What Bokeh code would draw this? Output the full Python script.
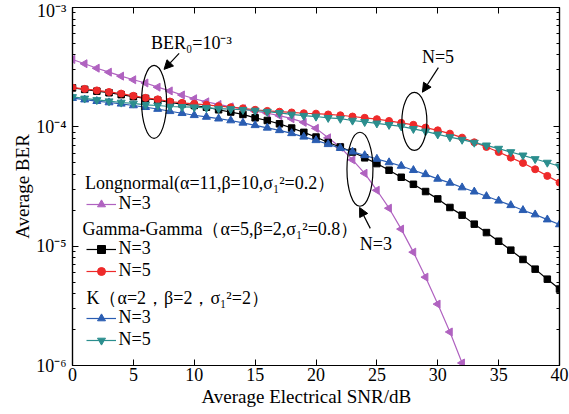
import math
from bokeh.plotting import figure
from bokeh.models import (LogAxis, LinearAxis, FixedTicker, CustomJSTickFormatter,
                          Legend, LegendItem, Label, Arrow, NormalHead, Title)
from bokeh.embed import file_html
from bokeh.resources import INLINE

# ---------------- data ----------------
snr = list(range(0, 41))
snr_ln = list(range(0, 33))

ber_ln_n3 = [3.67e-4, 3.38e-4, 3.10e-4, 2.87e-4, 2.66e-4, 2.48e-4, 2.33e-4, 2.15e-4, 2.00e-4, 1.85e-4,
             1.72e-4, 1.62e-4, 1.54e-4, 1.47e-4, 1.42e-4, 1.35e-4, 1.30e-4, 1.24e-4, 1.17e-4, 1.09e-4,
             9.71e-5, 8.09e-5, 6.74e-5, 5.29e-5, 4.08e-5, 2.94e-5, 2.08e-5, 1.39e-5, 8.91e-6, 5.50e-6,
             3.27e-6, 1.91e-6, 1.05e-6]

ber_gg_n3 = [2.12e-4, 2.06e-4, 1.99e-4, 1.93e-4, 1.86e-4, 1.79e-4, 1.73e-4, 1.67e-4, 1.60e-4, 1.55e-4,
             1.51e-4, 1.46e-4, 1.39e-4, 1.33e-4, 1.27e-4, 1.19e-4, 1.13e-4, 1.06e-4, 9.77e-5, 8.99e-5,
             8.21e-5, 7.39e-5, 6.78e-5, 6.15e-5, 5.50e-5, 4.92e-5, 4.33e-5, 3.78e-5, 3.30e-5, 2.87e-5,
             2.49e-5, 2.11e-5, 1.82e-5, 1.53e-5, 1.30e-5, 1.10e-5, 9.26e-6, 7.74e-6, 6.42e-6, 5.29e-6,
             4.37e-6]

ber_gg_n5 = [2.13e-4, 2.08e-4, 2.02e-4, 1.96e-4, 1.90e-4, 1.82e-4, 1.75e-4, 1.70e-4, 1.63e-4, 1.59e-4,
             1.56e-4, 1.53e-4, 1.49e-4, 1.46e-4, 1.43e-4, 1.39e-4, 1.36e-4, 1.34e-4, 1.32e-4, 1.30e-4,
             1.29e-4, 1.27e-4, 1.25e-4, 1.22e-4, 1.19e-4, 1.16e-4, 1.12e-4, 1.08e-4, 1.04e-4, 9.85e-5,
             9.35e-5, 8.77e-5, 8.12e-5, 7.42e-5, 6.78e-5, 6.15e-5, 5.52e-5, 4.98e-5, 4.41e-5, 3.88e-5,
             3.41e-5]

ber_k_n3 = [1.74e-4, 1.69e-4, 1.64e-4, 1.60e-4, 1.56e-4, 1.51e-4, 1.46e-4, 1.41e-4, 1.35e-4, 1.30e-4,
            1.25e-4, 1.21e-4, 1.17e-4, 1.13e-4, 1.08e-4, 1.03e-4, 9.81e-5, 9.35e-5, 8.82e-5, 8.25e-5,
            7.71e-5, 7.14e-5, 6.63e-5, 6.18e-5, 5.77e-5, 5.38e-5, 5.03e-5, 4.70e-5, 4.33e-5, 4.00e-5,
            3.66e-5, 3.39e-5, 3.10e-5, 2.86e-5, 2.62e-5, 2.40e-5, 2.20e-5, 2.00e-5, 1.84e-5, 1.67e-5,
            1.52e-5]

ber_k_n5 = [1.78e-4, 1.73e-4, 1.68e-4, 1.64e-4, 1.60e-4, 1.57e-4, 1.53e-4, 1.51e-4, 1.48e-4, 1.47e-4,
            1.46e-4, 1.44e-4, 1.42e-4, 1.41e-4, 1.39e-4, 1.37e-4, 1.34e-4, 1.31e-4, 1.27e-4, 1.24e-4,
            1.22e-4, 1.19e-4, 1.17e-4, 1.13e-4, 1.10e-4, 1.07e-4, 1.04e-4, 1.01e-4, 9.62e-5, 9.17e-5,
            8.65e-5, 8.21e-5, 7.81e-5, 7.38e-5, 7.00e-5, 6.57e-5, 6.15e-5, 5.77e-5, 5.38e-5, 5.02e-5,
            4.67e-5]

x_ticks = [0, 5, 10, 15, 20, 25, 30, 35, 40]
y_ticks = [1e-6, 1e-5, 1e-4, 1e-3]
y_minor = [m * 10.0 ** e for e in range(-6, -3) for m in range(2, 10)]

header_ln = "Longnormal(α=11,β=10,σ₁²=0.2）"
header_gg = "Gamma-Gamma（α=5,β=2,σ₁²=0.8）"
header_k = "K（α=2，β=2，σ₁²=2）"

# ---------------- styling ----------------
FONT = "Liberation Serif"
FS = "18px"
C_PURPLE = "#B062C0"
C_BLACK = "#000000"
C_RED = "#EE2A2A"
C_BLUE = "#2A5DB2"
C_TEAL = "#2B8E8E"

p = figure(width=569, height=414, x_range=(0, 40), y_range=(1e-6, 1e-3),
           y_axis_type="log", output_backend="svg", toolbar_location=None,
           min_border_left=72, min_border_right=10, min_border_top=7, min_border_bottom=49)
p.background_fill_color = "white"
p.border_fill_color = "white"
p.outline_line_color = "black"
p.outline_line_width = 1.2
p.xgrid.visible = False
p.ygrid.visible = False

sup = CustomJSTickFormatter(code="""
const s = {'-':'\u207b','0':'\u2070','1':'\u00b9','2':'\u00b2','3':'\u00b3','4':'\u2074','5':'\u2075','6':'\u2076','7':'\u2077','8':'\u2078','9':'\u2079'};
const e = Math.round(Math.log10(tick));
return '10' + String(e).split('').map(c => s[c]).join('');
""")

def style_axis(ax):
    ax.axis_line_color = "black"
    ax.axis_line_width = 1.2
    ax.major_tick_in = 6
    ax.major_tick_out = 0
    ax.minor_tick_in = 3
    ax.minor_tick_out = 0
    ax.major_tick_line_color = "black"
    ax.minor_tick_line_color = "black"
    ax.major_label_text_font = FONT
    ax.major_label_text_font_size = FS
    ax.major_label_text_color = "black"
    ax.axis_label_text_font = FONT
    ax.axis_label_text_font_size = FS
    ax.axis_label_text_font_style = "normal"
    ax.axis_label_text_color = "black"

# bottom x axis
xa = p.xaxis[0]
xa.ticker = FixedTicker(ticks=x_ticks)
style_axis(xa)
xa.minor_tick_line_color = None
xa.major_label_standoff = 2

# x axis title (slightly left of centre, as in the reference)
p.add_layout(Title(text="Average Electrical SNR/dB", align="left", offset=129,
                   text_font=FONT, text_font_size="19px", text_font_style="normal",
                   text_color="black", standoff=0), "below")

# left y axis
ya = p.yaxis[0]
ya.ticker = FixedTicker(ticks=y_ticks, minor_ticks=y_minor)
ya.formatter = sup
style_axis(ya)
ya.major_label_standoff = 6
ya.axis_label = "Average BER"
ya.axis_label_standoff = 0
ya.axis_label_text_font_size = "19px"

# mirrored axes (ticks only)
xt = LinearAxis(ticker=FixedTicker(ticks=x_ticks), major_label_text_alpha=0,
                major_label_standoff=0)
style_axis(xt)
xt.major_label_text_font_size = "1px"
xt.minor_tick_line_color = None
p.add_layout(xt, "above")
yr = LogAxis(ticker=FixedTicker(ticks=y_ticks, minor_ticks=y_minor), major_label_text_alpha=0,
             major_label_standoff=0)
style_axis(yr)
yr.major_label_text_font_size = "1px"
p.add_layout(yr, "right")

# ---------------- series ----------------
LW = 1.2
l_ln3 = p.line(snr_ln, ber_ln_n3, line_color=C_PURPLE, line_width=LW)
s_ln3 = p.scatter(snr_ln, ber_ln_n3, marker="triangle", angle=math.pi / 2, size=8,
                  fill_color=C_PURPLE, line_color=C_PURPLE)
l_gg3 = p.line(snr, ber_gg_n3, line_color=C_BLACK, line_width=LW)
s_gg3 = p.scatter(snr, ber_gg_n3, marker="square", size=6.5, fill_color=C_BLACK, line_color=C_BLACK)
l_k3 = p.line(snr, ber_k_n3, line_color=C_BLUE, line_width=LW)
s_k3 = p.scatter(snr, ber_k_n3, marker="triangle", size=8, fill_color=C_BLUE, line_color=C_BLUE)
l_gg5 = p.line(snr, ber_gg_n5, line_color=C_RED, line_width=LW)
s_gg5 = p.scatter(snr, ber_gg_n5, marker="circle", size=7, fill_color=C_RED, line_color=C_RED)
l_k5 = p.line(snr, ber_k_n5, line_color=C_TEAL, line_width=LW)
s_k5 = p.scatter(snr, ber_k_n5, marker="inverted_triangle", size=8, fill_color=C_TEAL, line_color=C_TEAL)

# ---------------- legends ----------------
def make_legend(items, loc):
    lg = Legend(items=items, location=loc, padding=0, margin=0, spacing=1,
                border_line_color=None, background_fill_alpha=0,
                glyph_width=30, glyph_height=20, label_height=20, label_standoff=3,
                label_text_font=FONT, label_text_font_size=FS, label_text_color="black")
    p.add_layout(lg)

make_legend([LegendItem(label="N=3", renderers=[l_ln3, s_ln3])], (13.5, 151))
make_legend([LegendItem(label="N=3", renderers=[l_gg3, s_gg3]),
             LegendItem(label="N=5", renderers=[l_gg5, s_gg5])], (13.5, 84))
make_legend([LegendItem(label="N=3", renderers=[l_k3, s_k3]),
             LegendItem(label="N=5", renderers=[l_k5, s_k5])], (13.5, 15))

def screen_label(text, x, y, align="left"):
    p.add_layout(Label(x=x, y=y, x_units="screen", y_units="screen", text=text,
                       text_font=FONT, text_font_size=FS, text_color="black",
                       text_align=align, text_baseline="middle"))

screen_label(header_ln, 12.5, 183)
screen_label(header_gg, 10, 137)
screen_label(header_k, 14, 68)

# ---------------- annotations ----------------
ell_x = [6.70, 28.08, 23.61]
ell_y = [1.62e-4, 1.11e-4, 4.41e-5]
ell_w = [25, 25, 26]
ell_h = [73, 58, 74]
p.ellipse(x=ell_x, y=ell_y, width=ell_w, height=ell_h, width_units="screen",
          height_units="screen", fill_color=None, line_color="black", line_width=1.2)

def data_label(text, x, y):
    p.add_layout(Label(x=x, y=y, text=text, text_font=FONT, text_font_size=FS,
                       text_color="black", text_align="left", text_baseline="middle"))

data_label("BER₀=10⁻³", 6.45, 5.02e-4)
data_label("N=5", 28.7, 3.84e-4)
data_label("N=3", 23.6, 1.05e-5)

arrows = [((8.76, 4.12e-4), (7.52, 3.03e-4)),
          ((30.05, 3.13e-4), (28.74, 1.95e-4)),
          ((24.46, 1.41e-5), (23.58, 2.11e-5))]
for (xs, ys), (xe, ye) in arrows:
    p.add_layout(Arrow(end=NormalHead(size=9, fill_color="black", line_color="black"),
                       x_start=xs, y_start=ys, x_end=xe, y_end=ye,
                       line_color="black", line_width=1.2))

open("out.html", "w").write(file_html(p, INLINE))
